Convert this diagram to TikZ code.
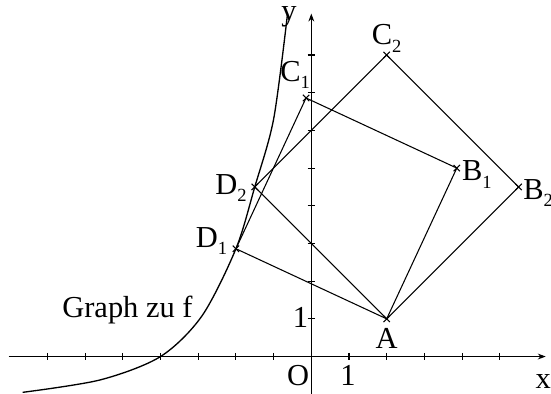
\documentclass[tikz,border=0pt]{standalone}
\usepackage{fontspec}
\setmainfont{Liberation Serif}
\usetikzlibrary{arrows.meta,positioning,shapes.misc}
\newcommand{\idx}[2]{#1\raisebox{-2.8pt}{\fontsize{7}{8}\selectfont #2}}
\tikzset{
    pkt/.style={cross out, draw, inner sep=0pt, minimum size=2pt},
    lbl/.style={inner sep=1pt, text height=7.6pt, text depth=0pt}
}
\begin{document}
\begin{tikzpicture}[x=0.5cm, y=0.5cm, font=\fontsize{11.5}{13}\selectfont, >={Stealth[length=3pt,width=2.2pt]}]
    \useasboundingbox (-8.26,-0.99) rectangle (6.36,9.46);
    \draw[->] (-8.03,0) -- (6.22,0) node[below=3.3pt, xshift=-0.9pt] (xlab) {x};
    \draw[->] (0,-0.99) -- (0,9.1) node[left=2pt, yshift=-1.4pt] (ylab) {y};
    \foreach \i in {-7,...,-1,1,2,...,5} \draw (\i,0.1) -- (\i,-0.1);
    \foreach \j in {1,...,8} \draw (-0.1,\j) -- (0.1,\j);
    \node[lbl] (O) at (-0.35,-0.51) {O};
    \node[lbl] (einsx) at (0.97,-0.51) {1};
    \node[lbl] (einsy) at (-0.29,1.03) {1};

    % Graph
    \draw[line width=0.5pt] plot [smooth] coordinates {(-7.66,-0.95) (-5.6,-0.62) (-4,0) (-2.9,1.08) (-2,2.86) (-1.5,4.5) (-1,6.3) (-0.63,9.1)};
    \node[anchor=base west, inner sep=0pt] (graph) at (-6.62,1.045) {Graph zu f};

    % Points
    \node[pkt] (A) at (2,1) {};
    \node[pkt] (B1) at (3.86,5) {};
    \node[pkt] (C1) at (-0.14,6.86) {};
    \node[pkt] (D1) at (-2,2.86) {};
    \node[pkt] (B2) at (5.5,4.5) {};
    \node[pkt] (C2) at (2,8) {};
    \node[pkt] (D2) at (-1.5,4.5) {};

    % Squares
    \draw (A.center) -- (B1.center) -- (C1.center) -- (D1.center) -- cycle;
    \draw (A.center) -- (B2.center) -- (C2.center) -- (D2.center) -- cycle;

    \node[lbl, below=2.4pt of A.center] (lA) {A};
    \node[lbl, right=0.8pt of B1.center, yshift=-1pt] (lB1) {\idx{B}{1}};
    \node[lbl, right=0.6pt of B2.center, yshift=-0.9pt] (lB2) {\idx{B}{2}};
    \node[lbl, above=2.6pt of C2.center] (lC2) {\idx{C}{2}};
    \node[lbl, above=5.2pt of C1.center, xshift=-4.1pt] (lC1) {\idx{C}{1}};
    \node[lbl, left=1.9pt of D2.center, yshift=1pt] (lD2) {\idx{D}{2}};
    \node[lbl, left=2.1pt of D1.center, yshift=4.4pt] (lD1) {\idx{D}{1}};
\end{tikzpicture}
\end{document}
